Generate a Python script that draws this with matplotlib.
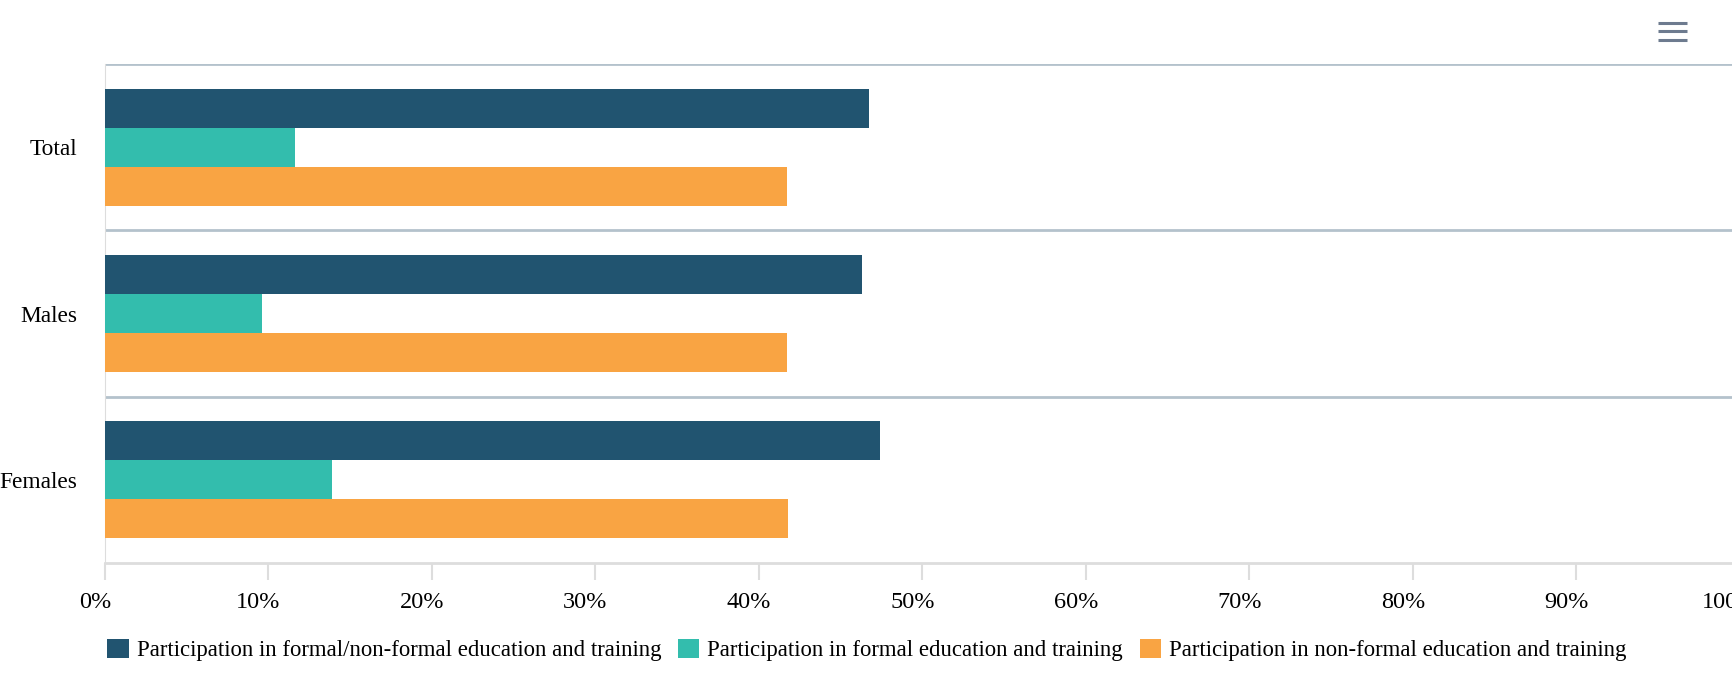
import matplotlib
matplotlib.use("Agg")
import matplotlib.pyplot as plt
import matplotlib.transforms as mtransforms
from matplotlib.lines import Line2D
import numpy as np

categories = ["Total", "Males", "Females"]
series_names = [
    "Participation in formal/non-formal education and training",
    "Participation in formal education and training",
    "Participation in non-formal education and training",
]
formal_nonformal = [46.7, 46.3, 47.4]
formal = [11.6, 9.6, 13.9]
nonformal = [41.7, 41.7, 41.8]
series_colors = ["#215470", "#33bdad", "#f9a443"]
x_ticks = [0, 10, 20, 30, 40, 50, 60, 70, 80, 90, 100]

plt.rcParams['font.family'] = ['Liberation Serif', 'DejaVu Serif']

W, H = 1733, 678
fig = plt.figure(figsize=(W / 100, H / 100), dpi=100)
ax = fig.add_axes([105 / W, (H - 563) / H, 1635 / W, 499 / H])

y = np.arange(len(categories))
bar_h = 0.234
for i, (vals, name, col) in enumerate(zip([formal_nonformal, formal, nonformal], series_names, series_colors)):
    ax.barh(y + (i - 1) * bar_h, vals, height=bar_h, color=col, label=name, zorder=3)

ax.set_xlim(0, 100)
ax.set_ylim(len(categories) - 0.5, -0.5)

# category separators
for b in np.arange(-0.5, len(categories) - 0.5, 1.0):
    ax.axhline(b, color="#b4c2cc", lw=2, zorder=2)

for s in ["top", "right"]:
    ax.spines[s].set_visible(False)
ax.spines["left"].set_color("#dddddd")
ax.spines["bottom"].set_color("#dddddd")
ax.spines["bottom"].set_linewidth(2)

ax.set_yticks(y)
ax.set_yticklabels(categories, fontsize=16.8)
ax.tick_params(axis="y", length=0, pad=20)

ax.set_xticks(x_ticks)
ax.set_xticklabels([f"{t}%" for t in x_ticks], fontsize=17.5)
ax.tick_params(axis="x", length=12, width=1.5, color="#dddddd", pad=9)
offset = mtransforms.ScaledTranslation(-10 / 100, 0, fig.dpi_scale_trans)
for lbl in ax.get_xticklabels():
    lbl.set_transform(lbl.get_transform() + offset)

fig.legend(loc="center left", bbox_to_anchor=(98 / W, 1 - 650 / H), ncol=3, frameon=False,
           fontsize=16.4, handlelength=0.95, handleheight=0.95, handletextpad=0.35,
           columnspacing=0.73, borderaxespad=0)

# menu icon
for yy in [23, 31.3, 39.5]:
    fig.add_artist(Line2D([1658 / W, 1687 / W], [1 - yy / H, 1 - yy / H],
                          color="#6d7b8f", lw=2.2, solid_capstyle="butt"))

fig.savefig("out.png", dpi=100)
